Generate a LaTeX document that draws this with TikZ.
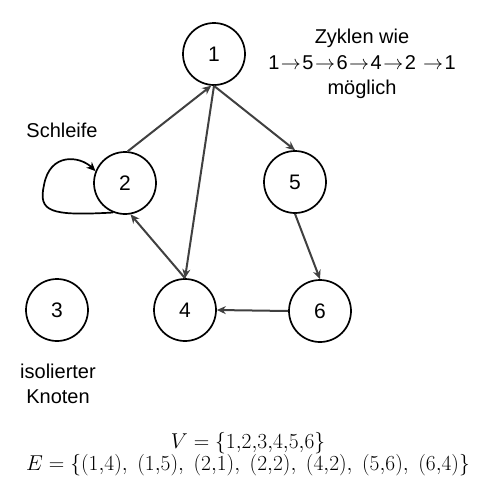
\documentclass[tikz,border=0pt]{standalone}
\usepackage{fix-cm}
\usepackage{fontspec}
\setmainfont{Liberation Sans}
\usetikzlibrary{arrows.meta}
\def\radius{31pt}
\newcommand\cycarrow{\kern1.5pt$\rightarrow$\kern1.5pt}

\begin{document}
\begin{tikzpicture}[x=1pt,y=-1pt,
    vertex/.style={draw,line width=1.7pt,circle,minimum size=2*\radius,inner sep=0pt,font=\fontsize{21}{25}\selectfont},
    edge/.style={draw=black!75,line width=2pt,-{Stealth[length=9pt,width=8pt]}},
    label/.style={font=\fontsize{20}{25.5}\selectfont,align=center}]
  \useasboundingbox (0,0) rectangle (486,491);

  % Vertices
  \node[vertex] (n1) at (214,54) {1};
  \node[vertex] (n2) at (125,183) {2};
  \node[vertex] (n3) at (57,310) {3};
  \node[vertex] (n4) at (185,310) {4};
  \node[vertex] (n5) at (295,182) {5};
  \node[vertex] (n6) at (320,311) {6};

  % Edges
  \draw[edge] (n1.south) -- (n5.north);
  \draw[edge] (n2.85) -- (n1.-95);
  \draw[edge] (n1.south) -- (n4.north);
  \draw[edge] (n4.north) -- (n2.-80);
  \draw[edge] (n5.south) -- (n6.north);
  \draw[edge] (n6.west) -- (n4.east);

  % Loop at 2
  \draw[line width=1.7pt,-{Stealth[length=9pt,width=8pt]}] (n2.-112) .. controls (50,216) and (38,212) .. (44,185)
    .. controls (50,152) and (80,156) .. (n2.158);

  % Labels
  \node[label] (loop) at (62,130) {Schleife};
  \node[label] (iso) at (58,384) {isolierter\\Knoten};
  \node[label] (cyc) at (362,64) {Zyklen wie\\1\cycarrow5\cycarrow6\cycarrow4\cycarrow2 \cycarrow1\\möglich};

  % Sets
  \node[font=\fontsize{21.5}{26}\selectfont] (sets) at (248,454) {$\begin{array}{c}V=\{1{,}2{,}3{,}4{,}5{,}6\}\\[-4pt] E=\{(1{,}4),\;(1{,}5),\;(2{,}1),\;(2{,}2),\;(4{,}2),\;(5{,}6),\;(6{,}4)\}\end{array}$};
\end{tikzpicture}
\end{document}
